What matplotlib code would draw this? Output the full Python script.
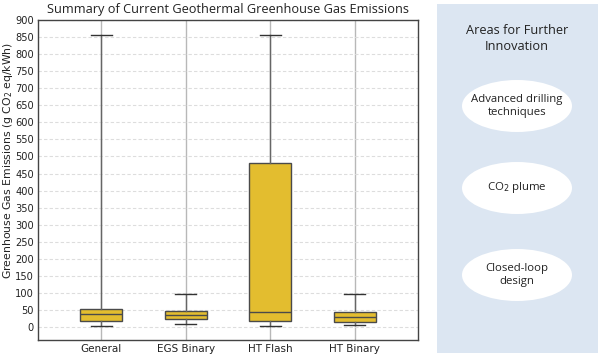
import matplotlib
matplotlib.use("Agg")
import matplotlib.pyplot as plt
from matplotlib.patches import Rectangle, Ellipse

categories = ["General", "EGS Binary", "HT Flash", "HT Binary"]
whisker_low = [4, 9, 4, 6]
q1 = [17, 24, 17, 14]
medians = [37, 35, 45, 30]
q3 = [53, 48, 480, 45]
whisker_high = [855, 97, 855, 98]
yticks = list(range(0, 901, 50))
panel_title = "Areas for Further\nInnovation"
panel_items = ["Advanced drilling\ntechniques", "CO$_2$ plume", "Closed-loop\ndesign"]

fig = plt.figure(figsize=(6, 3.56), dpi=100)
W, H = 600, 356
ax = fig.add_axes([38 / W, 1 - 340 / H, 380 / W, 320 / H])

stats = []
for i, c in enumerate(categories):
    stats.append(dict(label=c, whislo=whisker_low[i], q1=q1[i], med=medians[i],
                      q3=q3[i], whishi=whisker_high[i], fliers=[]))
pos = list(range(1, len(categories) + 1))
ax.bxp(stats, positions=pos, widths=0.5, patch_artist=True, showfliers=False,
       boxprops=dict(facecolor="#E3BD2F", edgecolor="#4a4a4a", linewidth=1.0),
       medianprops=dict(color="#4a4a4a", linewidth=1.0),
       whiskerprops=dict(color="#666666", linewidth=1.0),
       capprops=dict(color="#333333", linewidth=1.0), zorder=3)

ax.set_xlim(0.25, 4.75)
ax.set_ylim(-38, 900)
ax.set_yticks(yticks)
ax.set_xticks(pos)
ax.set_xticklabels(categories)
ax.tick_params(axis="y", labelsize=7.1, length=0, pad=3, colors="#222222")
ax.tick_params(axis="x", labelsize=7.5, length=0, pad=3, colors="#222222")
ax.yaxis.grid(True, linestyle=(0, (3, 2)), color="#dddddd", linewidth=0.8, zorder=0)
ax.xaxis.grid(True, linestyle="-", color="#b8b8b8", linewidth=1.0, zorder=0)
ax.set_axisbelow(True)
for s in ax.spines.values():
    s.set_color("#444444")
    s.set_linewidth(1.0)
ax.set_ylabel("Greenhouse Gas Emissions (g CO$_2$ eq/kWh)", fontsize=7.8,
              color="#222222", va="center", ha="center")
ax.yaxis.set_label_coords((8 - 38) / 380, 0.56)
ax.set_title("Summary of Current Geothermal Greenhouse Gas Emissions",
             fontsize=9.2, family="Open Sans", pad=5, color="#222222")

# Right panel
fig.patches.append(Rectangle((437 / W, 1 - 353 / H), 161 / W, 349 / H,
                             transform=fig.transFigure, facecolor="#DCE6F2",
                             edgecolor="none", zorder=0))
fig.text(517 / W, 1 - 38 / H, panel_title, ha="center", va="center",
         fontsize=9.2, family="Open Sans", color="#222222", linespacing=1.3)
centers = [106, 188, 275]
for cy, txt in zip(centers, panel_items):
    fig.patches.append(Ellipse((517 / W, 1 - cy / H), 110 / W, 52 / H,
                               transform=fig.transFigure, facecolor="white",
                               edgecolor="none", zorder=1))
    fig.text(517 / W, 1 - cy / H, txt, ha="center", va="center",
             fontsize=8.2, family="Open Sans", color="#222222", linespacing=1.35, zorder=2)

fig.savefig("out.png", dpi=100)
